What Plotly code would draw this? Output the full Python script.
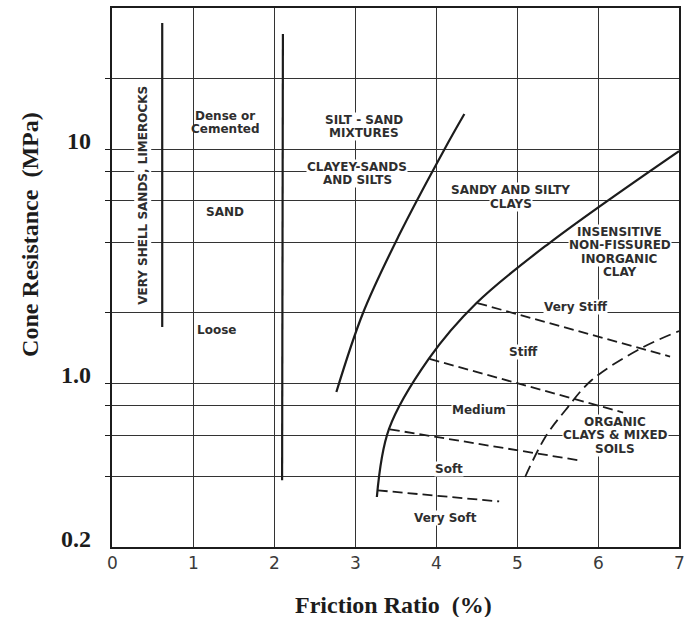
import numpy as np
import plotly.graph_objects as go

# Friction ratio axis (%)
fr_ticks = [0, 1, 2, 3, 4, 5, 6, 7]
fr_tick_text = ["0", "1", "2", "3", "4", "5", "6", "7"]

# Cone resistance grid lines (MPa) and the labelled values
qc_grid = [0.4, 0.6, 0.8, 1, 2, 4, 6, 8, 10, 20]
qc_label_vals = [10, 1, 0.2]
qc_label_text = ["10", "1.0", "0.2"]

# Zone boundaries: friction ratio (%) vs cone resistance (MPa)
shell_fr = [0.62, 0.62]
shell_qc = [1.74, 34.5]

sand_fr = [2.11, 2.10]
sand_qc = [31.0, 0.385]

silt_fr = [2.77, 3.10, 3.54, 4.10, 4.35]
silt_qc = [0.918, 2.00, 4.26, 9.91, 14.1]

clay_fr = [3.27, 3.42, 3.91, 4.50, 5.40, 7.00]
clay_qc = [0.327, 0.638, 1.27, 2.20, 3.97, 9.8]

organic_fr = [5.10, 5.35, 5.60, 5.92, 6.53, 7.00]
organic_qc = [0.398, 0.59, 0.769, 1.03, 1.41, 1.67]

# Consistency boundaries of the clay zone
vstiff_fr = [4.51, 6.89]
vstiff_qc = [2.20, 1.30]
stiff_fr = [3.92, 6.31]
stiff_qc = [1.27, 0.75]
medium_fr = [3.43, 5.76]
medium_qc = [0.636, 0.469]
soft_fr = [3.28, 4.78]
soft_qc = [0.349, 0.313]

# Zone labels: lines of text, friction ratio, cone resistance, knock out grid
zone_labels = [
    (["Dense or", "Cemented"], 1.40, 13.0, False),
    (["SILT - SAND", "MIXTURES"], 3.11, 12.5, True),
    (["CLAYEY-SANDS", "AND SILTS"], 3.03, 7.86, True),
    (["SAND"], 1.39, 5.36, False),
    (["Loose"], 1.29, 1.68, False),
    (["SANDY AND SILTY", "CLAYS"], 4.92, 6.24, True),
    (["INSENSITIVE", "NON-FISSURED", "INORGANIC", "CLAY"], 6.27, 3.63, True),
    (["Very Stiff"], 5.72, 2.11, True),
    (["Stiff"], 5.08, 1.36, True),
    (["Medium"], 4.53, 0.767, True),
    (["ORGANIC", "CLAYS &amp; MIXED", "SOILS"], 6.21, 0.60, True),
    (["Soft"], 4.16, 0.429, True),
    (["Very Soft"], 4.12, 0.265, True),
]
shell_label = ("VERY SHELL SANDS, LIMEROCKS", 0.38, 6.36)

INK = "#1c1c1c"
TEXT = "#2e2e2e"
LABEL_FONT = dict(family="DejaVu Sans", size=12, color=TEXT, weight="bold")
LINE_H = 13.5

fig = go.Figure()

solid = dict(color=INK, width=2.2)
for xs, ys in [(shell_fr, shell_qc), (sand_fr, sand_qc)]:
    fig.add_trace(go.Scatter(x=xs, y=ys, mode="lines", line=solid, hoverinfo="skip"))
for xs, ys in [(silt_fr, silt_qc), (clay_fr, clay_qc)]:
    fig.add_trace(go.Scatter(x=xs, y=ys, mode="lines",
                             line=dict(color=INK, width=2.2, shape="spline", smoothing=1.0),
                             hoverinfo="skip"))
fig.add_trace(go.Scatter(x=organic_fr, y=organic_qc, mode="lines",
                         line=dict(color=INK, width=1.8, dash="12px,6px", shape="spline", smoothing=1.0),
                         hoverinfo="skip"))
for xs, ys in [(vstiff_fr, vstiff_qc), (stiff_fr, stiff_qc),
               (medium_fr, medium_qc), (soft_fr, soft_qc)]:
    fig.add_trace(go.Scatter(x=xs, y=ys, mode="lines",
                             line=dict(color=INK, width=1.8, dash="10px,5px"),
                             hoverinfo="skip"))

annotations = []
for lines, fx, qy, knock in zone_labels:
    n = len(lines)
    for i, txt in enumerate(lines):
        annotations.append(dict(
            x=fx, y=np.log10(qy), xref="x", yref="y", text=txt, showarrow=False,
            xanchor="center", yanchor="middle",
            yshift=((n - 1) / 2 - i) * LINE_H,
            font=LABEL_FONT, bgcolor="white" if knock else "rgba(0,0,0,0)", borderpad=0,
        ))

annotations.append(dict(
    x=shell_label[1], y=np.log10(shell_label[2]), xref="x", yref="y",
    text=shell_label[0], showarrow=False, textangle=-90,
    font=LABEL_FONT, bgcolor="white", borderpad=1,
))

# Axis numbers
for v, t in zip(qc_label_vals, qc_label_text):
    annotations.append(dict(
        x=0, xref="paper", y=np.log10(v), yref="y", text=t, showarrow=False,
        xanchor="right", yanchor="middle", xshift=-19, yshift=8,
        font=dict(family="Liberation Serif", size=24, color=INK, weight="bold"),
    ))
for v, t in zip(fr_ticks, fr_tick_text):
    annotations.append(dict(
        x=v, xref="x", y=0, yref="paper", text=t, showarrow=False,
        xanchor="center", yanchor="middle", yshift=-16,
        font=dict(family="DejaVu Sans", size=17, color="#3a3a3a"),
    ))

# Axis titles
annotations.append(dict(
    x=0, xref="paper", xshift=-82, y=0.579, yref="paper",
    text="Cone Resistance\u00a0 (MPa)", showarrow=False, textangle=-90,
    xanchor="center", yanchor="middle",
    font=dict(family="Liberation Serif", size=24, color=INK, weight="bold"),
))
annotations.append(dict(
    x=0.497, xref="paper", y=0, yref="paper", yshift=-58,
    text="Friction Ratio\u00a0 (%)", showarrow=False,
    xanchor="center", yanchor="middle",
    font=dict(family="Liberation Serif", size=24, color=INK, weight="bold"),
))

fig.update_layout(
    width=685, height=617,
    margin=dict(l=112, r=4, t=8, b=70),
    paper_bgcolor="white", plot_bgcolor="white",
    showlegend=False, annotations=annotations,
)
fig.update_xaxes(
    range=[0, 7], tickvals=fr_ticks[1:-1], showticklabels=False,
    showgrid=True, gridcolor="#333333", gridwidth=1.4,
    showline=True, linecolor=INK, linewidth=2.2, mirror=True,
    zeroline=False, ticks="",
)
fig.update_yaxes(
    type="log", range=[np.log10(0.2), np.log10(40)],
    tickvals=qc_grid, showticklabels=False,
    showgrid=True, gridcolor="#333333", gridwidth=1.4,
    showline=True, linecolor=INK, linewidth=2.2, mirror=True,
    zeroline=False, ticks="outside", ticklen=5, tickcolor=INK, tickwidth=1.4,
)

fig.write_html("out.html")
